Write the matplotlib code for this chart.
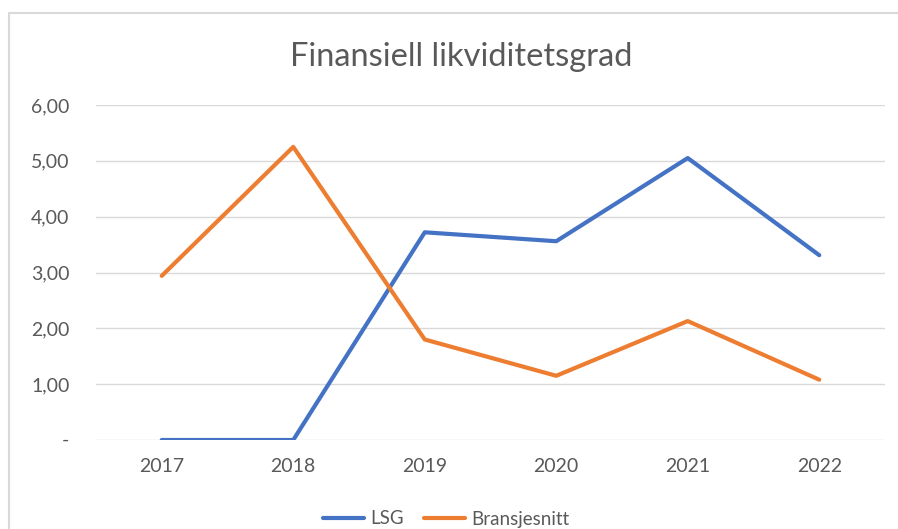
import matplotlib
matplotlib.use("Agg")
import matplotlib.pyplot as plt
from matplotlib.patches import Rectangle
from matplotlib.ticker import FuncFormatter

# Data
years = ["2017", "2018", "2019", "2020", "2021", "2022"]
lsg = [0.0, 0.0, 3.72, 3.56, 5.05, 3.31]
bransjesnitt = [2.94, 5.25, 1.80, 1.15, 2.13, 1.08]
y_ticks = [0, 1, 2, 3, 4, 5, 6]

plt.rcParams['font.family'] = ['Lato', 'DejaVu Sans']
text_grey = '#595959'

fig = plt.figure(figsize=(8.98, 5.29), dpi=100)
ax = fig.add_axes([96 / 898, 89 / 529, (885 - 96) / 898, (440 - 105) / 529])

x = range(len(years))
ax.plot(x, lsg, color='#4472C4', lw=3, label='LSG', solid_capstyle='round')
ax.plot(x, bransjesnitt, color='#ED7D31', lw=3, label='Bransjesnitt', solid_capstyle='round')

ax.set_xlim(-0.5, len(years) - 0.5)
ax.set_ylim(0, 6)
ax.set_xticks(list(x))
ax.set_xticklabels(years)
ax.set_yticks(y_ticks)

def fmt(v, pos):
    # null tegnes som strek under (Excel regnskapsformat)
    if v == 0:
        return ''
    return f'{v:.2f}'.replace('.', ',')

ax.yaxis.set_major_formatter(FuncFormatter(fmt))
ax.tick_params(axis='both', length=0, labelsize=14, labelcolor=text_grey)
ax.tick_params(axis='y', pad=19)
ax.tick_params(axis='x', pad=13)

# strek for null, litt inn fra høyrekanten som i Excel
ax.annotate('-', xy=(0, y_ticks[0]), xycoords=('axes fraction', 'data'),
            xytext=(-22, 0), textcoords='offset points', ha='center', va='center',
            fontsize=14, color=text_grey)

ax.grid(axis='y', color='#D9D9D9', lw=1)
ax.set_axisbelow(True)
for s in ax.spines.values():
    s.set_visible(False)

fig.text(461 / 898, 1 - 57 / 529, 'Finansiell likviditetsgrad', ha='center', va='center',
         fontsize=23.5, color=text_grey)

fig.legend(loc='center', bbox_to_anchor=(446 / 898, 10 / 529), ncol=2, frameon=False,
           fontsize=13.5, labelcolor=text_grey, handlelength=2.2, handletextpad=0.3,
           columnspacing=1.1)

# Diagramramme
fig.patches.append(Rectangle((9, -20), 1000, 529 - 13 + 20, transform=None,
                             fill=False, edgecolor='#D9D9D9', lw=1.5))

fig.savefig('out.png', dpi=100)
